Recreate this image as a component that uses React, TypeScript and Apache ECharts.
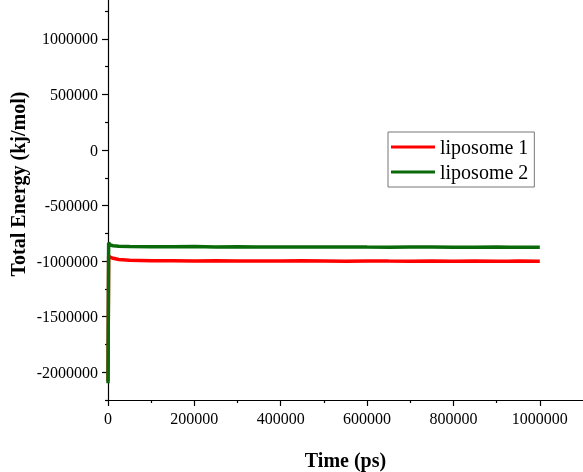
import React, { useEffect, useRef } from "react";
import * as echarts from "echarts";

const timePs = [0, 1500, 5000, 12000, 25000, 50000, 100000, 150000, 200000, 250000, 300000, 350000, 400000, 450000, 500000, 550000, 600000, 650000, 700000, 750000, 800000, 850000, 900000, 950000, 1000000];
const liposome1 = [-2080000, -955000, -965000, -975000, -985000, -992000, -996000, -997000, -998000, -996000, -999000, -998000, -1000000, -997000, -999000, -1001000, -998000, -1000000, -1001000, -999000, -1002000, -1000000, -1001000, -1000000, -1002000];
const liposome2 = [-2100000, -835000, -855000, -862000, -866000, -868000, -870000, -871000, -869000, -872000, -871000, -873000, -872000, -874000, -873000, -872000, -874000, -875000, -873000, -874000, -876000, -875000, -874000, -876000, -876000];

const xMajor = [0, 200000, 400000, 600000, 800000, 1000000];
const xMinor = [100000, 300000, 500000, 700000, 900000];
const yMajor = [-2000000, -1500000, -1000000, -500000, 0, 500000, 1000000];
const yMinor = [-2250000, -1750000, -1250000, -750000, -250000, 250000, 750000, 1250000];

const seriesNames = ["liposome 1", "liposome 2"];
const xTitle = "Time (ps)";
const yTitle = "Total Energy (kj/mol)";

const FONT = "'Liberation Serif', 'Times New Roman', serif";

export default function App() {
  const ref = useRef<HTMLDivElement>(null);
  useEffect(() => {
    if (!ref.current) return;
    const chart = echarts.init(ref.current, null, { renderer: "svg" });
    const X_MIN = 0, X_MAX = 1100000, Y_MIN = -2250000, Y_MAX = 1350000;
    const axisLine = { show: true, onZero: false, lineStyle: { color: "#000", width: 1.2 } };
    const fmt = (v: number) => String(Math.round(v));
    chart.setOption({
      animation: false,
      textStyle: { fontFamily: FONT, color: "#000" },
      grid: { left: 108, right: 0, top: 0, bottom: 72, containLabel: false, outerBoundsMode: "none" },
      legend: {
        data: seriesNames,
        orient: "vertical",
        left: 388,
        top: 132,
        padding: [5, 6, 5, 3],
        itemGap: 5,
        itemWidth: 44,
        itemHeight: 3,
        icon: "rect",
        backgroundColor: "#fff",
        borderColor: "#777",
        borderWidth: 1,
        textStyle: { fontFamily: FONT, fontSize: 20, color: "#000" },
      },
      xAxis: [
        {
          type: "value",
          min: X_MIN,
          max: X_MAX,
          interval: 100000,
          position: "bottom",
          axisLine,
          splitLine: { show: false },
          axisTick: { show: true, customValues: xMajor, length: 6, lineStyle: { color: "#000", width: 1.2 } },
          axisLabel: { customValues: xMajor, formatter: fmt, fontSize: 16, color: "#000", margin: 10, fontFamily: FONT },
          name: xTitle,
          nameLocation: "middle",
          nameGap: 50,
          nameTextStyle: { fontSize: 20, fontWeight: "bold", color: "#000", fontFamily: FONT },
        },
        {
          type: "value",
          min: X_MIN,
          max: X_MAX,
          interval: 100000,
          position: "bottom",
          axisLine: { show: false, onZero: false },
          splitLine: { show: false },
          axisTick: { show: true, customValues: xMinor, length: 3, lineStyle: { color: "#000", width: 1.2 } },
          axisLabel: { show: false },
        },
      ],
      yAxis: [
        {
          type: "value",
          min: Y_MIN,
          max: Y_MAX,
          interval: 250000,
          position: "left",
          axisLine,
          splitLine: { show: false },
          axisTick: { show: true, customValues: yMajor, length: 6, lineStyle: { color: "#000", width: 1.2 } },
          axisLabel: { customValues: yMajor, formatter: fmt, fontSize: 16, color: "#000", margin: 10, fontFamily: FONT },
        },
        {
          type: "value",
          min: Y_MIN,
          max: Y_MAX,
          interval: 250000,
          position: "left",
          axisLine: { show: false, onZero: false },
          splitLine: { show: false },
          axisTick: { show: true, customValues: yMinor, length: 3, lineStyle: { color: "#000", width: 1.2 } },
          axisLabel: { show: false },
        },
      ],
      graphic: [
        {
          type: "text",
          x: 18,
          y: 184,
          rotation: Math.PI / 2,
          style: {
            text: yTitle,
            fontSize: 20,
            fontWeight: "bold",
            fontFamily: FONT,
            fill: "#000",
            align: "center",
            verticalAlign: "middle",
            textAlign: "center",
            textVerticalAlign: "middle",
          },
        },
      ],
      series: [
        {
          name: seriesNames[0],
          type: "line",
          xAxisIndex: 0,
          yAxisIndex: 0,
          showSymbol: false,
          symbol: "none",
          lineStyle: { color: "#ff0000", width: 3.5 },
          itemStyle: { color: "#ff0000" },
          data: timePs.map((t, i) => [t, liposome1[i]]),
          z: 2,
        },
        {
          name: seriesNames[1],
          type: "line",
          xAxisIndex: 0,
          yAxisIndex: 0,
          showSymbol: false,
          symbol: "none",
          lineStyle: { color: "#0a6a0a", width: 3.5 },
          itemStyle: { color: "#0a6a0a" },
          data: timePs.map((t, i) => [t, liposome2[i]]),
          z: 3,
        },
      ],
    });
    return () => chart.dispose();
  }, []);
  return <div ref={ref} style={{ position: "fixed", left: 0, top: 0, width: 583, height: 472 }} />;
}
